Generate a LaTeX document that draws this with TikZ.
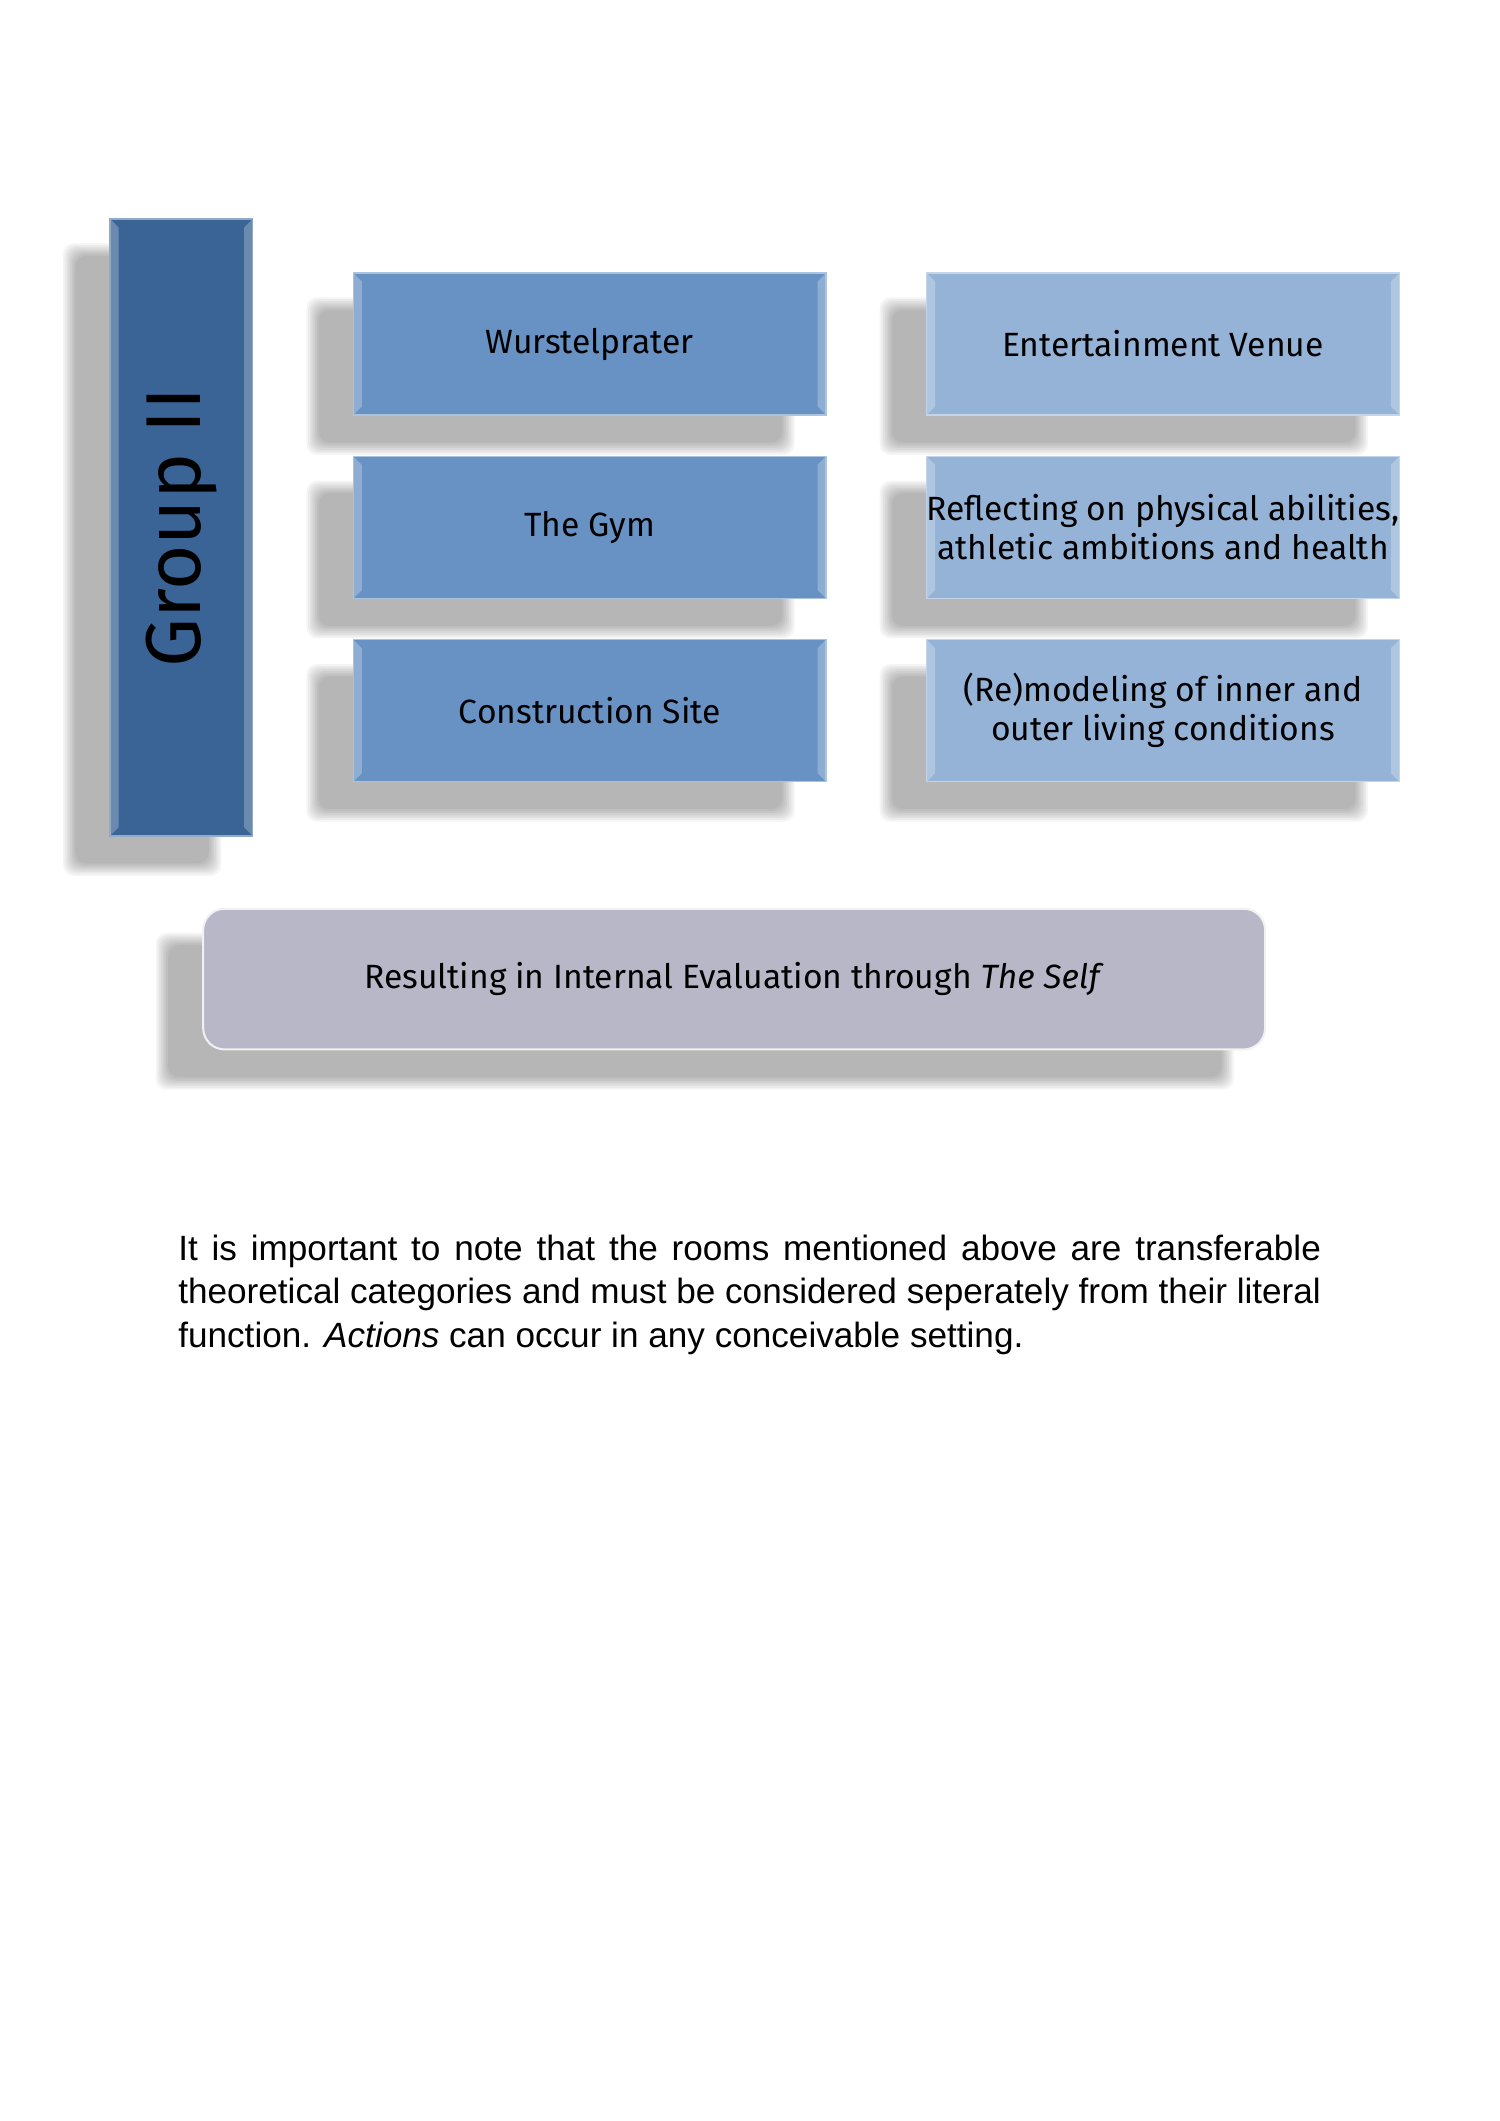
\documentclass[tikz,border=0pt]{standalone}
\usepackage{fontspec}
\setmainfont{Liberation Sans}
\newfontfamily\roomfont{Fira Sans}
\usetikzlibrary{positioning,backgrounds}
\hyphenpenalty=10000
\exhyphenpenalty=10000

\definecolor{groupblue}{RGB}{58,100,150}
\definecolor{roomblue}{RGB}{104,146,196}
\definecolor{meanblue}{RGB}{149,179,215}
\definecolor{selfgrey}{RGB}{183,183,200}

\begin{document}
\begin{tikzpicture}[
  font=\roomfont\fontsize{13.4}{15.5}\selectfont,
  bevel/.style={
    path picture={
      \fill[white,opacity=.25] (path picture bounding box.north west) -- ++(1.2mm,-1.2mm)
        -- ([shift={(1.2mm,1.2mm)}]path picture bounding box.south west)
        -- (path picture bounding box.south west) -- cycle;
      \fill[white,opacity=.25] (path picture bounding box.north east) -- ++(-1.2mm,-1.2mm)
        -- ([shift={(-1.2mm,1.2mm)}]path picture bounding box.south east)
        -- (path picture bounding box.south east) -- cycle;
    }
  },
  room/.style={
    bevel,
    fill=#1,
    draw=#1!55!white,
    line width=0.5pt,
    align=center,
    minimum width=66.2mm,
    minimum height=19.9mm,
    inner sep=0pt
  },
  shadowstep/.style={fill=black,opacity=0.04,rounded corners=1.5mm}
]
\useasboundingbox (0,0) rectangle (210mm,-297mm);

% group bar
\node[room=groupblue,minimum width=20mm,minimum height=86.4mm,
  label={[rotate=90,font=\roomfont\fontsize{31}{36}\selectfont]center:Group II}]
  (group) at (25.4mm,-73.85mm) {};

% rooms and their meaning
\node[room=roomblue,right=13.9mm of group] (gym) {The Gym};
\node[room=roomblue,above=5.6mm of gym] (prater) {Wurstelprater};
\node[room=roomblue,below=5.6mm of gym] (site) {Construction Site};
\node[room=meanblue,right=13.9mm of prater] (venue) {Entertainment Venue};
\node[room=meanblue,right=13.9mm of gym] (health) {Reflecting on physical abilities,\\athletic ambitions and health};
\node[room=meanblue,right=13.9mm of site] (living) {(Re)modeling of inner and\\outer living conditions};

% result
\node[fill=selfgrey,draw=white!80!selfgrey,line width=0.8pt,rounded corners=3mm,
  minimum width=148.7mm,minimum height=19.7mm]
  (self) at (102.8mm,-137.1mm) {Resulting in Internal Evaluation through \textit{The Self}};

% note
\node[anchor=north west,text width=160mm,align=justify,inner sep=0pt,
  font=\rmfamily\fontsize{14}{17.4}\selectfont]
  (note) at (24.9mm,-172.8mm) {It is important to note that the rooms mentioned above are transferable theoretical categories and must be considered seperately from their literal function. \textit{Actions} can occur in any conceivable setting.};

% soft shadows, offset down-left
\begin{scope}[on background layer]
  \fill[white] (0,0) rectangle (210mm,-297mm);
  \foreach \n in {group,prater,gym,site,venue,health,living,self}
    \foreach \k in {0,...,7}
      \fill[shadowstep]
        ([shift={(-6.5mm+\k*0.25mm,-5.5mm+\k*0.25mm)}]\n.south west) rectangle
        ([shift={(-4.5mm-\k*0.25mm,-3.5mm-\k*0.25mm)}]\n.north east);
\end{scope}
\end{tikzpicture}
\end{document}
